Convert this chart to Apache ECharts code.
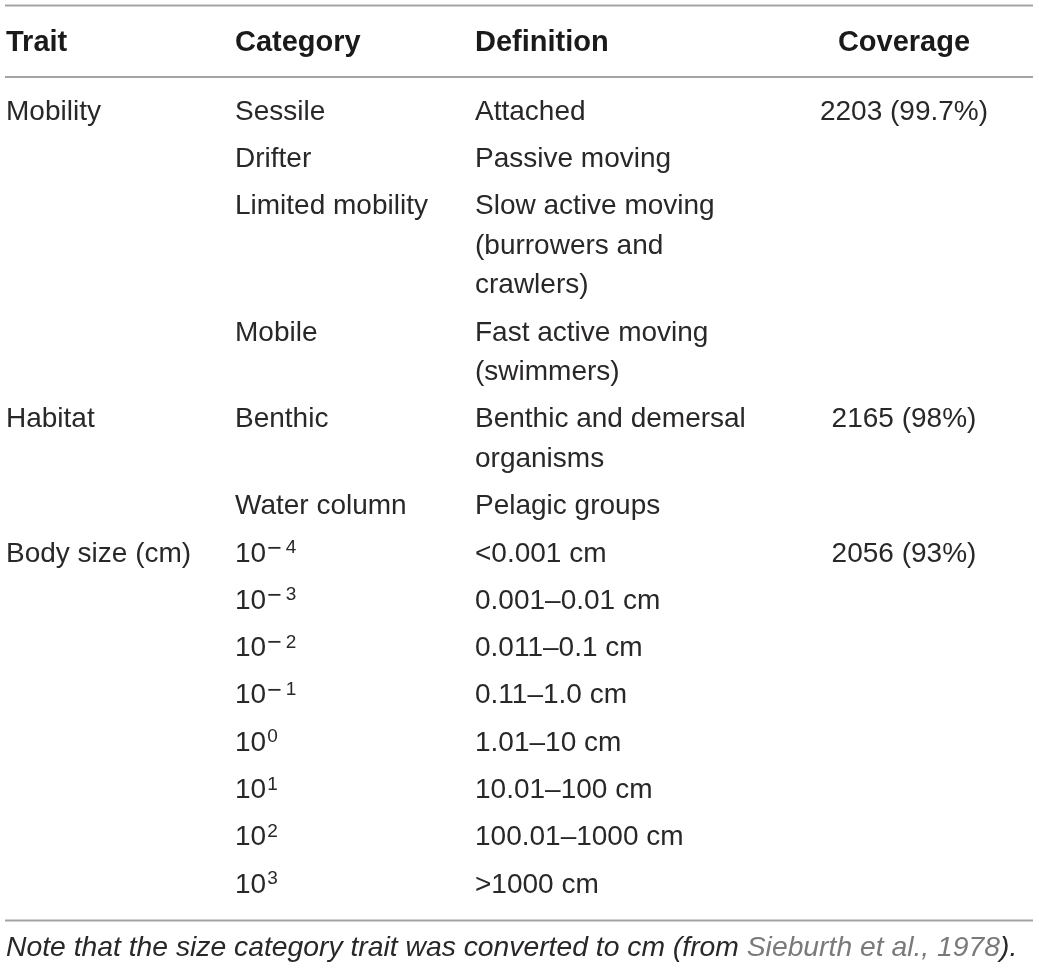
<!DOCTYPE html>
<html>
<head>
<meta charset="utf-8">
<style>
html, body { margin: 0; padding: 0; background: #fff; }
#main { width: 1039px; height: 969px; }
</style>
<script src="https://cdn.jsdelivr.net/npm/echarts@6/dist/echarts.min.js"></script>
</head>
<body>
<div id="main"></div>
<script>
// table content
const headers = ["Trait", "Category", "Definition", "Coverage"];
const traits = ["Mobility", "Habitat", "Body size (cm)"];
const coverage = ["2203 (99.7%)", "2165 (98%)", "2056 (93%)"];
const mobilityCategories = ["Sessile", "Drifter", "Limited mobility", "Mobile"];
const mobilityDefinitions = [
    ["Attached"],
    ["Passive moving"],
    ["Slow active moving", "(burrowers and", "crawlers)"],
    ["Fast active moving", "(swimmers)"],
];
const habitatCategories = ["Benthic", "Water column"];
const habitatDefinitions = [
    ["Benthic and demersal", "organisms"],
    ["Pelagic groups"],
];
const sizeBase = "10";
const sizeExponents = ["\u22124", "\u22123", "\u22122", "\u22121", "0", "1", "2", "3"];
const sizeDefinitions = [
    "<0.001 cm", "0.001\u20130.01 cm", "0.011\u20130.1 cm", "0.11\u20131.0 cm",
    "1.01\u201310 cm", "10.01\u2013100 cm", "100.01\u20131000 cm", ">1000 cm",
];
const noteText = "Note that the size category trait was converted to cm (from ";
const noteRef = "Sieburth et al., 1978";
const noteEnd = ").";

const FONT = "'Liberation Sans', Arial, sans-serif";
const textColor = "#2a2728";
const colX = [6, 235, 475, 904];
const rowStep = 47.3;
const lineStep = 39.5;

const measure = document.createElement("canvas").getContext("2d");
function textWidth(str, size) {
    measure.font = size + "px " + FONT;
    return measure.measureText(str).width;
}

function cell(text, x, y, opts) {
    return {
        type: "text",
        x: x,
        y: y,
        style: Object.assign({
            text: text,
            fontFamily: FONT,
            fontSize: 28,
            fill: textColor,
            align: "left",
            verticalAlign: "middle",
        }, opts || {}),
    };
}

function rule(y) {
    return {
        type: "line",
        shape: { x1: 5, y1: y, x2: 1033, y2: y },
        style: { stroke: "#a3a3a3", lineWidth: 2 },
    };
}

// 10 with a raised exponent; a leading minus gets its own wider slot
function power(exp, x, y) {
    const out = [cell(sizeBase, x, y)];
    let sx = x + textWidth(sizeBase, 28) + 1;
    let digits = exp;
    if (exp.charAt(0) === "\u2212") {
        out.push(cell("\u2212", sx, y - 5, { fontSize: 25 }));
        sx += textWidth("\u2212", 25) + 4;
        digits = exp.slice(1);
    }
    out.push(cell(digits, sx, y - 6, { fontSize: 19 }));
    return out;
}

const groups = [
    { cats: mobilityCategories, defs: mobilityDefinitions },
    { cats: habitatCategories, defs: habitatDefinitions },
    { cats: sizeExponents, defs: sizeDefinitions.map(d => [d]), power: true },
];

const elements = [rule(5.5), rule(77), rule(920.5)];

headers.forEach((h, i) => {
    elements.push(cell(h, colX[i], 43, {
        fontWeight: "bold",
        fontSize: 29,
        fill: "#1a1a1a",
        align: i === 3 ? "center" : "left",
    }));
});

let rowY = 112;
groups.forEach((g, gi) => {
    elements.push(cell(traits[gi], colX[0], rowY));
    elements.push(cell(coverage[gi], colX[3], rowY, { align: "center" }));
    g.cats.forEach((c, ci) => {
        if (g.power) {
            elements.push(...power(c, colX[1], rowY));
        } else {
            elements.push(cell(c, colX[1], rowY));
        }
        const lines = g.defs[ci];
        lines.forEach((line, li) => {
            elements.push(cell(line, colX[2], rowY + li * lineStep));
        });
        rowY += (lines.length - 1) * lineStep + rowStep;
    });
});

elements.push(cell(
    "{n|" + noteText + "}{r|" + noteRef + "}{n|" + noteEnd + "}",
    6, 948,
    {
        fontStyle: "italic",
        fontSize: 28.3,
        rich: {
            n: { fontFamily: FONT, fontStyle: "italic", fontSize: 28.3, fill: textColor },
            r: { fontFamily: FONT, fontStyle: "italic", fontSize: 28.3, fill: "#7a7a7a" },
        },
    }
));

const chart = echarts.init(document.getElementById("main"), null, { renderer: "canvas" });
chart.setOption({
    backgroundColor: "#ffffff",
    graphic: { elements: elements },
});
</script>
</body>
</html>
